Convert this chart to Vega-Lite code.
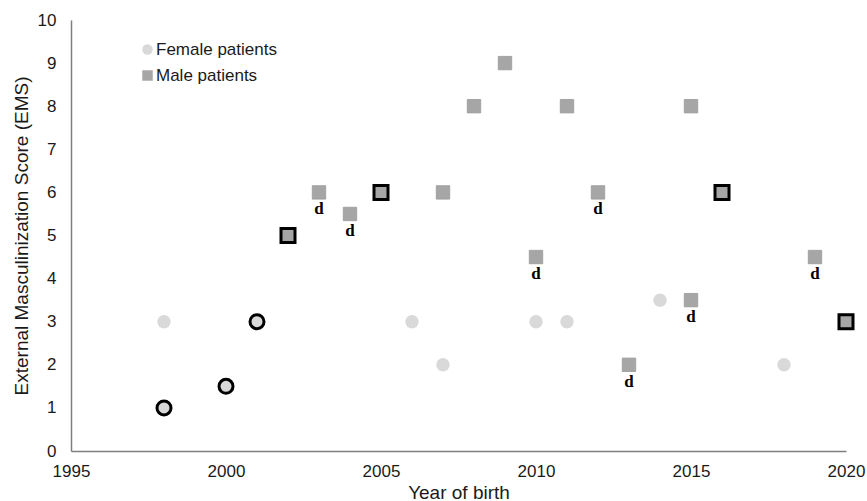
{
  "$schema": "https://vega.github.io/schema/vega-lite/v6.json",
  "autosize": "none",
  "width": 775,
  "height": 431,
  "padding": {"left": 71, "top": 20, "right": 21, "bottom": 50},
  "background": "white",
  "config": {
    "view": {"stroke": null},
    "font": "Liberation Sans",
    "axis": {"grid": false, "ticks": false, "domainColor": "#7f7f7f", "domainWidth": 1.5, "labelColor": "#1a1a1a", "titleColor": "#1a1a1a", "labelFontSize": 17, "titleFontSize": 19, "titleFontWeight": "normal", "labelFont": "Liberation Sans", "titleFont": "Liberation Sans", "labelFlush": false},
    "legend": {"labelFont": "Liberation Sans"}
  },
  "data": {"values": [
    {"year": 1998, "ems": 3, "sex": "Female patients", "bold": false, "d": ""},
    {"year": 2006, "ems": 3, "sex": "Female patients", "bold": false, "d": ""},
    {"year": 2007, "ems": 2, "sex": "Female patients", "bold": false, "d": ""},
    {"year": 2010, "ems": 3, "sex": "Female patients", "bold": false, "d": ""},
    {"year": 2011, "ems": 3, "sex": "Female patients", "bold": false, "d": ""},
    {"year": 2014, "ems": 3.5, "sex": "Female patients", "bold": false, "d": ""},
    {"year": 2018, "ems": 2, "sex": "Female patients", "bold": false, "d": ""},
    {"year": 1998, "ems": 1, "sex": "Female patients", "bold": true, "d": ""},
    {"year": 2000, "ems": 1.5, "sex": "Female patients", "bold": true, "d": ""},
    {"year": 2001, "ems": 3, "sex": "Female patients", "bold": true, "d": ""},
    {"year": 2003, "ems": 6, "sex": "Male patients", "bold": false, "d": "d"},
    {"year": 2004, "ems": 5.5, "sex": "Male patients", "bold": false, "d": "d"},
    {"year": 2007, "ems": 6, "sex": "Male patients", "bold": false, "d": ""},
    {"year": 2008, "ems": 8, "sex": "Male patients", "bold": false, "d": ""},
    {"year": 2009, "ems": 9, "sex": "Male patients", "bold": false, "d": ""},
    {"year": 2010, "ems": 4.5, "sex": "Male patients", "bold": false, "d": "d"},
    {"year": 2011, "ems": 8, "sex": "Male patients", "bold": false, "d": ""},
    {"year": 2012, "ems": 6, "sex": "Male patients", "bold": false, "d": "d"},
    {"year": 2013, "ems": 2, "sex": "Male patients", "bold": false, "d": "d"},
    {"year": 2015, "ems": 8, "sex": "Male patients", "bold": false, "d": ""},
    {"year": 2015, "ems": 3.5, "sex": "Male patients", "bold": false, "d": "d"},
    {"year": 2019, "ems": 4.5, "sex": "Male patients", "bold": false, "d": "d"},
    {"year": 2002, "ems": 5, "sex": "Male patients", "bold": true, "d": ""},
    {"year": 2005, "ems": 6, "sex": "Male patients", "bold": true, "d": ""},
    {"year": 2016, "ems": 6, "sex": "Male patients", "bold": true, "d": ""},
    {"year": 2020, "ems": 3, "sex": "Male patients", "bold": true, "d": ""}
  ]},
  "encoding": {
    "x": {"field": "year", "type": "quantitative", "scale": {"domain": [1995, 2020], "nice": false, "zero": false}, "axis": {"values": [1995, 2000, 2005, 2010, 2015, 2020], "format": "d", "labelPadding": 12, "title": "Year of birth", "titlePadding": 4}},
    "y": {"field": "ems", "type": "quantitative", "scale": {"domain": [0, 10], "nice": false}, "axis": {"values": [0,1,2,3,4,5,6,7,8,9,10], "labelPadding": 15, "title": "External Masculinization Score (EMS)", "titlePadding": 6}}
  },
  "layer": [
    {
      "mark": {"type": "text", "font": "Liberation Serif", "fontWeight": "bold", "fontSize": 17, "dy": 17, "baseline": "middle", "color": "black", "clip": false},
      "encoding": {"text": {"field": "d"}}
    },
    {
      "mark": {"type": "point", "filled": true, "opacity": 1, "clip": false},
      "encoding": {
        "shape": {"field": "sex", "type": "nominal", "scale": {"domain": ["Female patients", "Male patients"], "range": ["circle", "square"]}, "legend": {"title": null, "orient": "none", "legendX": 68, "legendY": 21, "labelFontSize": 17, "labelColor": "#1a1a1a", "symbolSize": 110, "rowPadding": 8, "labelOffset": 0, "symbolStrokeWidth": 0}},
        "color": {"field": "sex", "type": "nominal", "scale": {"domain": ["Female patients", "Male patients"], "range": ["#d9d9d9", "#a6a6a6"]}, "legend": {"title": null, "orient": "none", "legendX": 68, "legendY": 21, "labelFontSize": 17, "labelColor": "#1a1a1a", "symbolSize": 110, "rowPadding": 8, "labelOffset": 0, "symbolStrokeWidth": 0}},
        "size": {"condition": {"test": "datum.bold", "value": 196}, "value": 180},
        "stroke": {"condition": {"test": "datum.bold", "value": "black"}, "value": "#999999"},
        "strokeWidth": {"condition": [{"test": "datum.bold", "value": 3}, {"test": "datum.sex == 'Female patients'", "value": 0}], "value": 0.8}
      }
    }
  ]
}
